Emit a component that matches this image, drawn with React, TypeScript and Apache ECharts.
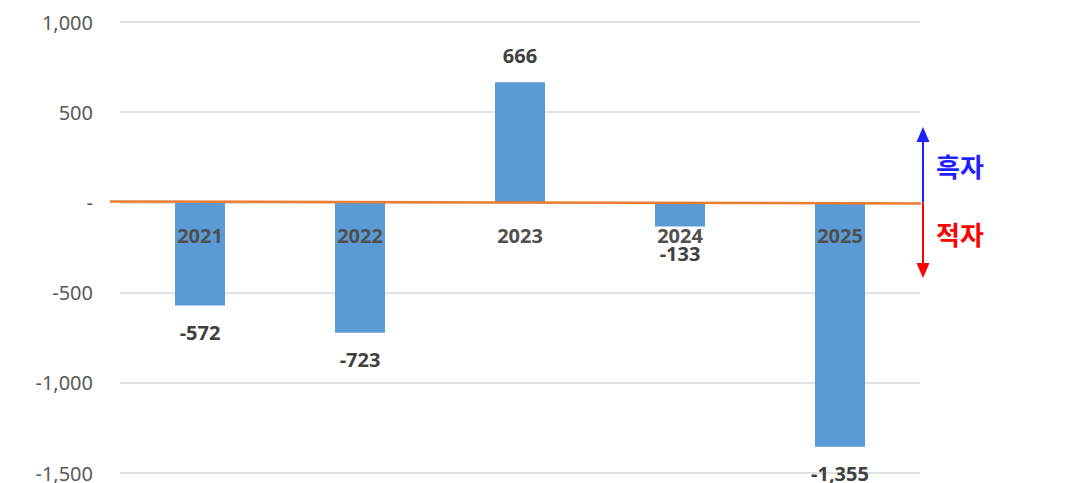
import React, { useEffect, useRef } from "react";
import * as echarts from "echarts";

const years = ["2021", "2022", "2023", "2024", "2025"];
const balance = [-572, -723, 666, -133, -1355];
const yMin = -1500;
const yMax = 1000;
const yStep = 500;
const upText = "흑자";
const downText = "적자";

const fmt = (v: number) => (v === 0 ? "-" : v.toLocaleString("en-US"));

export default function App() {
  const ref = useRef<HTMLDivElement>(null);
  useEffect(() => {
    document.body.style.margin = "0";
    const chart = echarts.init(ref.current!, null, { renderer: "svg" });
    chart.setOption({
      animation: false,
      grid: {
        left: 120,
        right: 149,
        top: 22,
        bottom: 10,
        containLabel: false,
        outerBoundsMode: "none",
      },
      xAxis: {
        type: "category",
        data: years,
        axisLine: { show: false },
        axisTick: { show: false },
        axisLabel: { show: false },
      },
      yAxis: {
        type: "value",
        min: yMin,
        max: yMax,
        interval: yStep,
        axisLine: { show: false },
        axisTick: { show: false },
        splitLine: { lineStyle: { color: "#d9d9d9", width: 1.5 } },
        axisLabel: {
          margin: 27,
          color: "#595959",
          fontSize: 20,
          fontFamily: "Noto Sans",
          formatter: (v: number) => fmt(v),
        },
      },
      series: [
        {
          type: "bar",
          data: balance,
          barWidth: 50,
          itemStyle: { color: "#5B9BD5" },
          label: {
            show: true,
            position: "outside",
            distance: 17,
            color: "#404040",
            fontSize: 20,
            fontWeight: "bold",
            fontFamily: "Noto Sans",
            formatter: (p: any) => fmt(p.value),
          },
        },
        {
          // category labels sitting on the zero line
          type: "scatter",
          data: years.map(() => 0),
          symbolSize: 0,
          silent: true,
          z: 20,
          itemStyle: { opacity: 1 },
          label: {
            show: true,
            position: "bottom",
            distance: 23,
            color: "#505050",
            opacity: 1,
            fontSize: 20,
            fontWeight: "bold",
            fontFamily: "Noto Sans",
            formatter: (p: any) => p.name,
          },
        },
      ],
    });
    const zeroY = chart.convertToPixel({ yAxisIndex: 0 }, 0) as number;
    const ax = 923;
    chart.setOption({
      graphic: [
        {
          type: "line",
          shape: { x1: 110, y1: zeroY - 1, x2: 921, y2: zeroY + 1 },
          style: { stroke: "#ED7D31", lineWidth: 2.5 },
          z: 100,
        },
        {
          type: "line",
          shape: { x1: ax, y1: zeroY, x2: ax, y2: 140 },
          style: { stroke: "#1f1fff", lineWidth: 2 },
          z: 100,
        },
        {
          type: "polygon",
          shape: { points: [[ax, 127], [ax - 6.5, 142], [ax + 6.5, 142]] },
          style: { fill: "#1f1fff" },
          z: 100,
        },
        {
          type: "line",
          shape: { x1: ax, y1: zeroY, x2: ax, y2: 265 },
          style: { stroke: "#ff0000", lineWidth: 2 },
          z: 100,
        },
        {
          type: "polygon",
          shape: { points: [[ax, 278], [ax - 6.5, 263], [ax + 6.5, 263]] },
          style: { fill: "#ff0000" },
          z: 100,
        },
        {
          type: "text",
          x: 936,
          y: 165,
          style: {
            text: upText,
            fill: "#1f1fff",
            font: 'bold 26px "Noto Sans CJK KR"',
            textVerticalAlign: "middle",
          },
        },
        {
          type: "text",
          x: 936,
          y: 233,
          style: {
            text: downText,
            fill: "#ff0000",
            font: 'bold 26px "Noto Sans CJK KR"',
            textVerticalAlign: "middle",
          },
        },
      ],
    });
    return () => chart.dispose();
  }, []);
  return <div ref={ref} style={{ width: 1069, height: 483 }} />;
}
